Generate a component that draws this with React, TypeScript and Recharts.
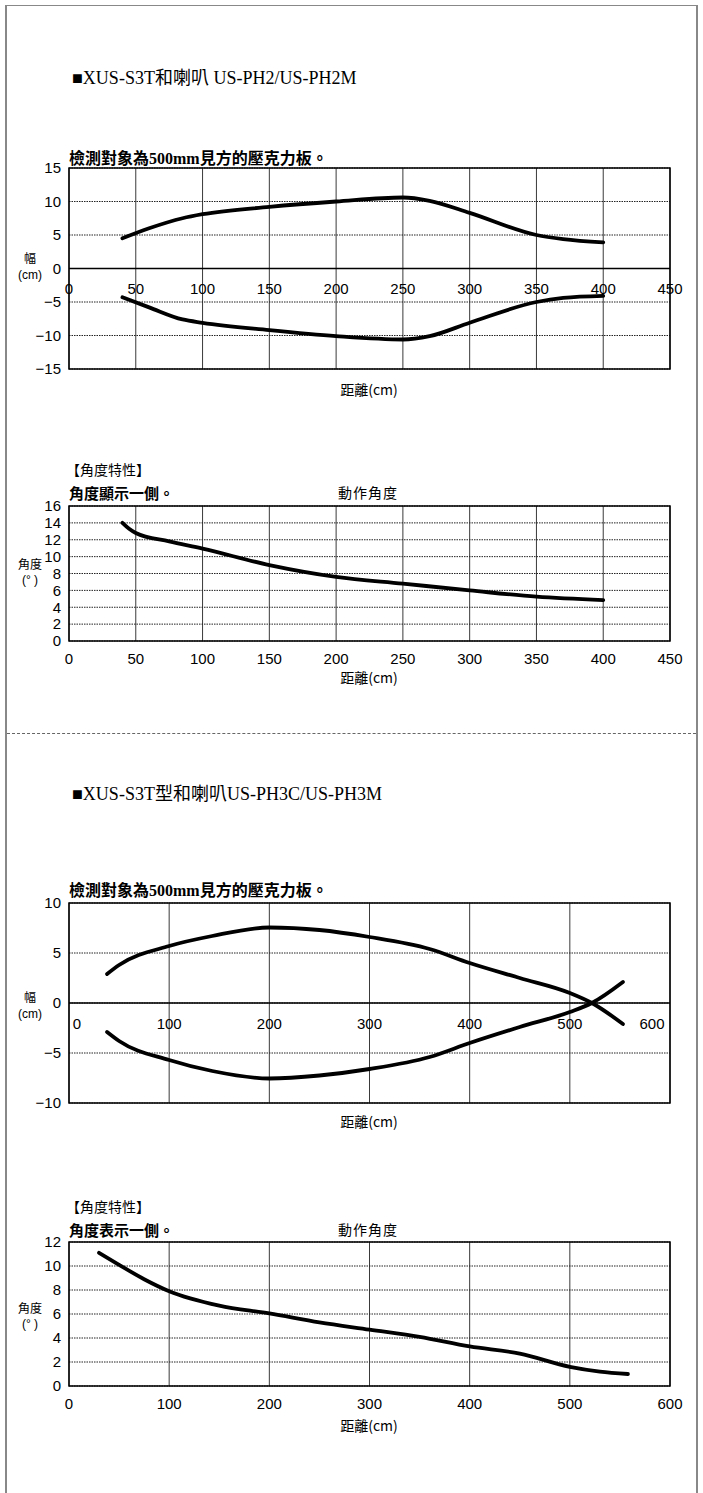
import React from 'react';
import { LineChart, Line, XAxis, YAxis, CartesianGrid, ReferenceLine, ReferenceArea } from 'recharts';

// US-PH2 / US-PH2M : detection width
const ph2Dist = [40, 60, 85, 100, 150, 200, 250, 270, 300, 350, 370, 400];
const ph2Upper = [4.5, 6.0, 7.5, 8.1, 9.2, 10.0, 10.6, 10.1, 8.3, 5.0, 4.4, 3.9];
const ph2Lower = [-4.3, -5.8, -7.6, -8.1, -9.2, -10.1, -10.6, -10.1, -8.1, -5.0, -4.4, -4.1];
const ph2XTicks = [0, 50, 100, 150, 200, 250, 300, 350, 400, 450];
const ph2YTicks = [-15, -10, -5, 0, 5, 10, 15];

// US-PH2 / US-PH2M : operating angle
const ph2AngDist = [40, 45, 50, 75, 100, 150, 200, 250, 300, 350, 400];
const ph2Ang = [14.0, 13.3, 12.8, 11.8, 10.95, 9.0, 7.6, 6.8, 6.0, 5.25, 4.85];
const ph2AngYTicks = [0, 2, 4, 6, 8, 10, 12, 14, 16];

// US-PH3C / US-PH3M : detection width
const ph3Dist = [38, 50, 100, 143, 200, 250, 300, 360, 400, 450, 500, 522, 553];
const ph3Upper = [2.9, 3.8, 5.7, 6.7, 7.55, 7.3, 6.6, 5.4, 4.0, 2.5, 1.0, 0, -2.1];
const ph3Lower = [-2.9, -3.8, -5.7, -6.8, -7.55, -7.25, -6.6, -5.4, -4.0, -2.4, -0.9, 0, 2.1];
const ph3XTicks = [0, 100, 200, 300, 400, 500, 600];
const ph3YTicks = [-10, -5, 0, 5, 10];

// US-PH3C / US-PH3M : operating angle
const ph3AngDist = [30, 50, 75, 100, 150, 200, 250, 300, 350, 400, 450, 500, 530, 558];
const ph3Ang = [11.1, 10.1, 8.9, 7.9, 6.7, 6.05, 5.3, 4.7, 4.1, 3.3, 2.7, 1.6, 1.2, 1.0];
const ph3AngYTicks = [0, 2, 4, 6, 8, 10, 12];

const SANS = '"Liberation Sans", Arial, "Noto Sans CJK TC", sans-serif';
const SERIF = '"Liberation Serif", "Noto Sans CJK TC", serif';
const CJK = '"Noto Sans CJK TC", sans-serif';
const W = 703;
const PLOT_LEFT = 69;
const PLOT_RIGHT = 670;
const X_AXIS_H = 30;
const TICK_FS = 15;

const fmt = (v: number) => (v < 0 ? '\u2212' + Math.abs(v) : String(v));

type PlotProps = {
  top: number;
  plotTop: number;
  plotBottom: number;
  data: any[];
  keys: string[];
  xMax: number;
  xTicks: number[];
  yTicks: number[];
  centered?: boolean;
  insetEnds?: boolean;
};

function Plot({ top, plotTop, plotBottom, data, keys, xMax, xTicks, yTicks, centered, insetEnds }: PlotProps) {
  const plotH = plotBottom - plotTop;
  const yMin = yTicks[0];
  const yMax = yTicks[yTicks.length - 1];

  const xTick = (props: any) => {
    const { x, y, payload } = props;
    const v = payload.value;
    let dx = 0;
    if (insetEnds && v === 0) dx = 8;
    if (insetEnds && v === xMax) dx = -18;
    const ty = centered ? y - plotH / 2 + 20 : y + 17;
    return (
      <text x={x + dx} y={ty} textAnchor="middle" dominantBaseline="central" fontSize={TICK_FS} fontFamily={SANS} fill="#000">
        {v}
      </text>
    );
  };

  return (
    <div style={{ position: 'absolute', left: 0, top }}>
      <LineChart
        width={W}
        height={plotBottom - top + X_AXIS_H}
        data={data}
        margin={{ top: plotTop - top, right: W - PLOT_RIGHT, bottom: 0, left: 0 }}
      >
        <CartesianGrid horizontal={false} stroke="#3a3a3a" strokeWidth={1} />
        <CartesianGrid vertical={false} stroke="#222" strokeWidth={1} strokeDasharray="1.5 1" />
        <XAxis
          type="number"
          dataKey="x"
          domain={[0, xMax]}
          ticks={xTicks}
          interval={0}
          height={X_AXIS_H}
          axisLine={false}
          tickLine={false}
          tickSize={0}
          tickMargin={0}
          tick={xTick}
          allowDataOverflow
        />
        <YAxis
          type="number"
          domain={[yMin, yMax]}
          ticks={yTicks}
          interval={0}
          width={PLOT_LEFT}
          axisLine={false}
          tickLine={false}
          tickFormatter={fmt}
          tick={{ fontSize: TICK_FS, fill: '#000', fontFamily: SANS }}
          allowDataOverflow
        />
        {centered && <ReferenceLine y={0} stroke="#000" strokeWidth={1.5} />}
        <ReferenceArea x1={0} x2={xMax} y1={yMin} y2={yMax} fill="none" fillOpacity={0} stroke="#000" strokeWidth={1.5} />
        {keys.map((k) => (
          <Line
            key={k}
            dataKey={k}
            type="monotone"
            stroke="#000"
            strokeWidth={3.8}
            strokeLinecap="round"
            dot={false}
            activeDot={false}
            isAnimationActive={false}
          />
        ))}
      </LineChart>
    </div>
  );
}

function Txt({ x, cy, size = 14, lh, anchor = 'left', family = CJK, weight = 400, spacing = 0, children }: any) {
  const lineH = lh ?? size + 2;
  const style: React.CSSProperties = {
    position: 'absolute',
    top: cy - lineH / 2,
    fontSize: size,
    lineHeight: `${lineH}px`,
    height: lineH,
    fontFamily: family,
    fontWeight: weight,
    letterSpacing: spacing,
    whiteSpace: 'nowrap',
    color: '#000',
  };
  if (anchor === 'center') {
    style.left = x - 30;
    style.width = 60;
    style.textAlign = 'center';
  } else {
    style.left = x;
  }
  return <div style={style}>{children}</div>;
}

// two-line y axis caption, e.g. 幅 / (cm)
function YCap({ cy1, cy2, top, bottom }: { cy1: number; cy2: number; top: string; bottom: string }) {
  return (
    <>
      <Txt x={30} cy={cy1} size={12} lh={12} anchor="center">{top}</Txt>
      <Txt x={30} cy={cy2} size={12} lh={12} anchor="center" family={SANS}>{bottom}</Txt>
    </>
  );
}

export default function App() {
  const ph2Data = ph2Dist.map((d, i) => ({ x: d, up: ph2Upper[i], low: ph2Lower[i] }));
  const ph2AngData = ph2AngDist.map((d, i) => ({ x: d, a: ph2Ang[i] }));
  const ph3Data = ph3Dist.map((d, i) => ({ x: d, up: ph3Upper[i], low: ph3Lower[i] }));
  const ph3AngData = ph3AngDist.map((d, i) => ({ x: d, a: ph3Ang[i] }));

  return (
    <div style={{ position: 'absolute', left: 0, top: 0, width: W, height: 1493, background: '#fff', overflow: 'hidden' }}>
      <div
        style={{
          position: 'absolute',
          left: 5,
          top: 5,
          width: 689,
          height: 1500,
          borderLeft: '2px solid #888',
          borderRight: '2px solid #888',
          borderTop: '1px solid #888',
        }}
      />
      <div style={{ position: 'absolute', left: 7, top: 733, width: 689, borderTop: '1px dashed #666' }} />

      {/* section 1 */}
      <Txt x={72} cy={78} size={18} family={SERIF}>■XUS-S3T和喇叭 US-PH2/US-PH2M</Txt>
      <Txt x={69} cy={159} size={16} family={SERIF} weight={700}>檢測對象為500mm見方的壓克力板。</Txt>
      <YCap cy1={258} cy2={275} top="幅" bottom="(cm)" />
      <Plot top={150} plotTop={168} plotBottom={369} data={ph2Data} keys={['up', 'low']} xMax={450} xTicks={ph2XTicks} yTicks={ph2YTicks} centered />
      <Txt x={369} cy={389} anchor="center">距離(cm)</Txt>

      <Txt x={66} cy={469}>【角度特性】</Txt>
      <Txt x={69} cy={492} size={15} weight={700}>角度顯示一側。</Txt>
      <Txt x={338} cy={492} spacing={1}>動作角度</Txt>
      <YCap cy1={564} cy2={580} top="角度" bottom="(° )" />
      <Plot top={495} plotTop={506} plotBottom={641} data={ph2AngData} keys={['a']} xMax={450} xTicks={ph2XTicks} yTicks={ph2AngYTicks} />
      <Txt x={369} cy={677} anchor="center">距離(cm)</Txt>

      {/* section 2 */}
      <Txt x={72} cy={794} size={18} family={SERIF}>■XUS-S3T型和喇叭US-PH3C/US-PH3M</Txt>
      <Txt x={69} cy={891} size={16} family={SERIF} weight={700}>檢測對象為500mm見方的壓克力板。</Txt>
      <YCap cy1={997} cy2={1014} top="幅" bottom="(cm)" />
      <Plot top={890} plotTop={903} plotBottom={1103} data={ph3Data} keys={['up', 'low']} xMax={600} xTicks={ph3XTicks} yTicks={ph3YTicks} centered insetEnds />
      <Txt x={369} cy={1121} anchor="center">距離(cm)</Txt>

      <Txt x={66} cy={1206}>【角度特性】</Txt>
      <Txt x={69} cy={1229} size={15} weight={700}>角度表示一側。</Txt>
      <Txt x={338} cy={1229} spacing={1}>動作角度</Txt>
      <YCap cy1={1308} cy2={1324} top="角度" bottom="(° )" />
      <Plot top={1230} plotTop={1242} plotBottom={1386} data={ph3AngData} keys={['a']} xMax={600} xTicks={ph3XTicks} yTicks={ph3AngYTicks} />
      <Txt x={369} cy={1425} anchor="center">距離(cm)</Txt>
    </div>
  );
}
